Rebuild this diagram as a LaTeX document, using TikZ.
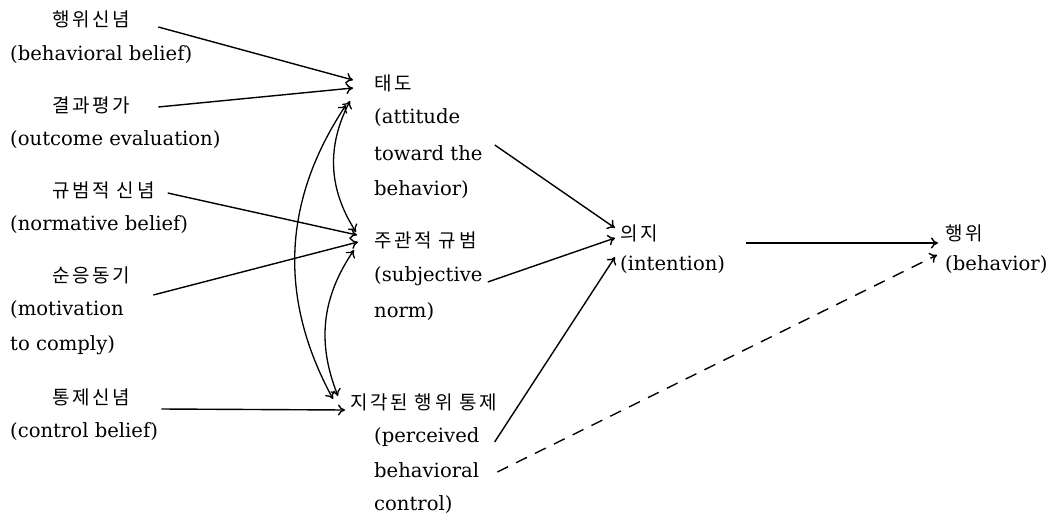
\documentclass[tikz,border=0pt]{standalone}
\usepackage{fontspec}
\setmainfont{DejaVu Serif}
\newfontfamily\kor[LetterSpace=14]{Noto Sans CJK KR}
\usetikzlibrary{calc,arrows.meta}
\newcommand{\en}{\fontsize{19.6}{19.6}\selectfont}
\newcommand{\ko}{\kor\fontsize{19}{19}\selectfont}
\begin{document}
\begin{tikzpicture}[x=1pt,y=-1pt,
	en/.style={inner sep=0pt, anchor=west, text height=14pt, text depth=4pt, font=\en},
	ko/.style={inner sep=0pt, anchor=west, text height=16pt, text depth=2pt, font=\ko},
	link/.style={-{To[length=7pt,width=11pt]}, line width=1.4pt},
	both/.style={{To[length=7pt,width=11pt]}-{To[length=7pt,width=11pt]}, line width=1.3pt}]
	\useasboundingbox (0,0) rectangle (1057,519);
	% left column
	\node (k1) [ko] at (52,20) {행위신념};
	\node (e1) [en] at (10,55) {(behavioral belief)};
	\node (k2) [ko] at (52,105) {결과평가};
	\node (e2) [en] at (10,140) {(outcome evaluation)};
	\node (k3) [ko] at (52,190) {규범적 신념};
	\node (e3) [en] at (10,225) {(normative belief)};
	\node (k4) [ko] at (52,275) {순응동기};
	\node (e4) [en] at (10,310) {(motivation};
	\node (e4b) [en] at (10,345) {to comply)};
	\node (k5) [ko] at (52,397) {통제신념};
	\node (e5) [en] at (10,432) {(control belief)};
	% middle column
	\node (att) [ko] at (374,83) {태도};
	\node (att1) [en] at (374,118) {(attitude};
	\node (att2) [en] at (374,155) {toward the};
	\node (att3) [en] at (374,190) {behavior)};
	\node (sub) [ko] at (374,240) {주관적 규범};
	\node (sub1) [en] at (374,276) {(subjective};
	\node (sub2) [en] at (374,312) {norm)};
	\node (per) [ko] at (350,402) {지각된 행위 통제};
	\node (per1) [en] at (374,437) {(perceived};
	\node (per2) [en] at (374,472) {behavioral};
	\node (per3) [en] at (374,505) {control)};
	% right
	\node (int) [ko] at (620,233) {의지};
	\node (int1) [en] at (620,265) {(intention)};
	\node (beh) [ko] at (945,233) {행위};
	\node (beh1) [en] at (945,265) {(behavior)};
	
	\draw[link] ($(k1.east)+(28,7)$) -- ($(att.west)+(-21,-3)$);
	\draw[link] ($(k2.east)+(28,2)$) -- ($(att.west)+(-21,5)$);
	\draw[link] ($(k3.east)+(13,3)$) -- ($(sub.west)+(-17,-5)$);
	\draw[link] ($(k4.east)+(23,20)$) -- ($(sub.west)+(-16,2)$);
	\draw[link] ($(k5.east)+(31,12)$) -- ($(per.west)+(-5,8)$);
	\draw[both] ($(att.west)+(-24,18)$) to[bend right=30] ($(sub.west)+(-18,-8)$);
	\draw[both] ($(sub.west)+(-20,10)$) to[bend right=28] ($(per.west)+(-12,-6)$);
	\draw[both] ($(att.west)+(-28,22)$) to[bend right=31] ($(per.west)+(-17,-3)$);
	\draw[link] ($(att2.east)+(12,-10)$) -- ($(int.west)+(-5,-5)$);
	\draw[link] ($(sub1.east)+(5,6)$) -- ($(int.west)+(-5,5)$);
	\draw[link] ($(per1.east)+(15,5)$) -- ($(int1.west)+(-5,-8)$);
	\draw[link] ($(int.east)+(88,10)$) -- ($(beh.west)+(-7,10)$);
	\draw[link, dash pattern=on 12pt off 9pt] ($(per2.east)+(18,0)$) -- ($(beh1.west)+(-8,-10)$);
\end{tikzpicture}
\end{document}
